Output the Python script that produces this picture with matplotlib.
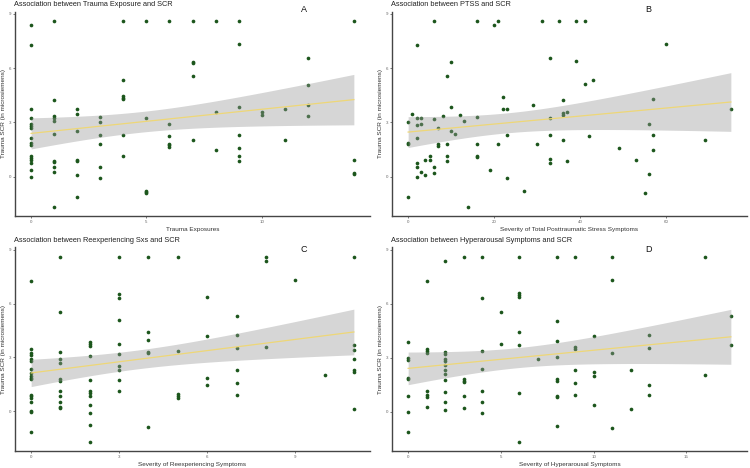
import numpy as np
import matplotlib
matplotlib.use("Agg")
import matplotlib.pyplot as plt

plt.rcParams['font.family'] = ['Liberation Sans', 'DejaVu Sans']

# ---------------- data ----------------
# Panel A: Trauma exposures vs trauma SCR
a_x = ([0]*16 + [1]*11 + [2]*7 + [3]*6 + [4]*7 + [5]*5 + [6]*6 + [7]*5 + [8]*3
       + [9]*7 + [10]*2 + [11]*2 + [12]*4 + [14]*4)
a_y = [8.37, 7.27, 3.75, 3.24, 2.91, 2.80, 2.69, 2.12, 1.84, 1.75, 1.14, 1.03, 0.92, 0.75, 0.37, -0.02,
       8.61, 4.23, 3.35, 3.24, 3.09, 2.36, 0.87, 0.79, 0.52, 0.26, -1.66,
       3.74, 3.46, 2.54, 0.94, 0.88, 0.07, -1.10,
       3.28, 3.00, 2.32, 1.79, 0.53, -0.07,
       8.61, 5.34, 4.44, 4.36, 4.29, 2.28, 1.14,
       8.61, 3.26, -0.77, -0.85, -0.92,
       8.61, 2.93, 2.23, 1.80, 1.73, 1.66,
       8.61, 6.35, 6.29, 5.54, 2.02,
       8.61, 3.59, 1.47,
       8.61, 7.34, 3.85, 2.32, 1.58, 1.14, 0.87,
       3.55, 3.42,
       3.74, 2.02,
       6.57, 5.08, 3.96, 3.37,
       8.61, 0.94, 0.18, 0.13]

# Panel B: total PTSS vs trauma SCR
b_x = [0, 0, 0, 0, 1, 2, 2, 2, 2, 2, 2, 2, 3, 3, 3, 4, 4, 5, 5, 6, 6, 6, 6, 7, 7, 7, 8,
       9, 9, 9, 9, 10, 10, 10, 11, 12, 13, 14, 16, 16, 16, 16, 16, 19, 20, 21, 21,
       22, 22, 23, 23, 23, 27, 29, 30, 31, 33, 33, 33, 33, 33, 35, 36, 36, 36, 36,
       37, 37, 39, 39, 41, 41, 42, 43, 49, 53, 55, 56, 56, 57, 57, 57, 60, 69, 75]
b_y = [3.02, 1.88, 1.79, -1.10, 3.48, 3.22, 2.83, 2.12, 0.77, 0.53, 0.00, 7.27,
       3.22, 2.93, 0.28, 0.90, 0.07, 1.14, 0.92, 8.61, 3.20, 0.53, 0.18, 2.71, 1.79, 1.69,
       3.33, 5.54, 1.79, 1.14, 0.88, 6.33, 3.85, 2.54, 2.37, 3.39, 3.07, -1.66,
       8.61, 3.29, 1.79, 1.14, 1.07, 0.39, 8.39, 8.61, 1.79, 4.42, 3.75, 3.72, 2.32, -0.07,
       -0.77, 3.96, 1.82, 8.61, 6.55, 3.26, 2.32, 0.96, 0.77, 8.61, 4.23, 3.52, 3.41, 2.02,
       3.59, 0.88, 8.61, 6.37, 8.61, 5.10, 2.23, 5.34, 1.58, 0.94, -0.88, 2.93, 0.15,
       4.31, 2.28, 1.47, 7.34, 2.02, 3.74]

# Panel C: reexperiencing symptoms vs trauma SCR
c_x = ([0]*18 + [1]*12 + [2]*12 + [3]*10 + [4]*6 + [5]*5 + [6]*4 + [7]*6 + [8]*3
       + [9]*1 + [10]*1 + [11]*7)
c_y = [7.27, 3.47, 3.23, 3.12, 2.90, 2.80, 2.36, 2.12, 1.99, 1.88, 1.79, 0.90, 0.83, 0.72, 0.50, 0.04, -0.04, -1.14,
       8.62, 5.52, 3.28, 2.90, 2.69, 1.81, 1.70, 1.11, 0.85, 0.50, 0.26, 0.18,
       3.87, 3.76, 3.65, 3.06, 1.73, 1.11, 1.01, 0.87, 0.35, -0.11, -0.79, -1.70,
       8.62, 6.55, 6.31, 5.07, 3.73, 3.17, 2.53, 2.31, 1.77, 1.11,
       8.62, 4.41, 3.95, 3.32, 3.25, -0.89,
       8.62, 3.36, 0.94, 0.85, 0.76,
       6.35, 4.21, 1.83, 1.44,
       5.33, 4.28, 3.54, 2.31, 1.57, 0.90,
       8.62, 8.36, 3.58,
       7.34,
       2.03,
       8.62, 3.71, 3.43, 2.90, 2.29, 2.21, 0.11]

# Panel D: hyperarousal symptoms vs trauma SCR
d_x = ([0]*8 + [1]*8 + [2]*12 + [3]*6 + [4]*7 + [5]*2 + [6]*8 + [7]*1 + [8]*9
       + [9]*6 + [10]*4 + [11]*4 + [12]*2 + [13]*4 + [16]*2 + [17.4]*2)
d_y = [3.86, 3.01, 2.86, 1.88, 1.79, 0.85, -0.04, -1.14,
       7.27, 3.49, 3.38, 3.27, 1.13, 0.92, 0.81, 0.26,
       8.38, 3.30, 3.19, 2.93, 2.79, 2.58, 2.31, 2.08, 1.75, 1.11, 0.52, 0.06,
       8.62, 1.81, 1.73, 1.64, 0.89, 0.18,
       8.62, 6.33, 3.38, 2.36, 1.13, 0.52, -0.09,
       5.54, 3.75,
       8.62, 6.59, 6.48, 6.37, 4.41, 3.69, 1.05, -1.68,
       2.92,
       8.62, 5.07, 3.95, 3.06, 1.81, 1.73, 0.89, 0.81, -0.79,
       8.62, 3.58, 3.47, 2.31, 1.57, 0.94,
       4.21, 2.23, 1.99, 0.35,
       8.62, 7.34, 3.25, -0.89,
       2.29, 0.13,
       4.28, 3.54, 1.46, 0.92,
       8.62, 2.03,
       5.33, 3.73]

titles = ["Association between Trauma Exposure and SCR",
          "Association between PTSS and SCR",
          "Association between Reexperiencing Sxs and SCR",
          "Association between Hyperarousal Symptoms and SCR"]
xlabels = ["Trauma Exposures",
           "Severity of Total Posttraumatic Stress Symptoms",
           "Severity of Reexperiencing Symptoms",
           "Severity of Hyperarousal Symptoms"]
ylabel = "Trauma SCR (in microsiemens)"
letters = ["A", "B", "C", "D"]
xticks = [[0, 5, 10], [0, 20, 40, 60], [0, 3, 6, 9], [0, 5, 10, 15]]
yticks = [0, 3, 6, 9]

panels = [(a_x, a_y), (b_x, b_y), (c_x, c_y), (d_x, d_y)]

# ---------------- layout ----------------
W, H = 750, 468
fig = plt.figure(figsize=(7.5, 4.68), dpi=100)
fig.patch.set_facecolor('white')

# axes boxes in pixels: (left, top, right, bottom)
boxes = [(15, 11.5, 370, 216), (392, 11.5, 747, 216),
         (15, 247.5, 370, 451), (392, 247.5, 747, 451)]
title_pos = [(14.5, 5), (391, 5), (14.5, 240.5), (391, 240.5)]
letter_pos = [(304, 10), (648, 10), (304, 250), (648, 250)]

PT_COL = '#1c561c'
LINE_COL = '#eed777'
AX_COL = '#454545'


def t_crit(df):
    # two-sided 95% critical value of Student t (Cornish-Fisher expansion)
    z = 1.959964
    g1 = (z**3 + z) / 4
    g2 = (5*z**5 + 16*z**3 + 3*z) / 96
    g3 = (3*z**7 + 19*z**5 + 17*z**3 - 15*z) / 384
    return z + g1/df + g2/df**2 + g3/df**3


for i, ((xs, ys), (l, t, r, b)) in enumerate(zip(panels, boxes)):
    x = np.asarray(xs, float)
    y = np.asarray(ys, float)
    ax = fig.add_axes([l / W, 1 - b / H, (r - l) / W, (b - t) / H])
    ax.scatter(x, y, s=7, color=PT_COL, linewidths=0, zorder=2)

    # linear model with 95% confidence band (as geom_smooth(method = "lm"))
    n = len(x)
    slope, inter = np.polyfit(x, y, 1)
    resid = y - (inter + slope * x)
    s = np.sqrt(np.sum(resid**2) / (n - 2))
    xg = np.linspace(x.min(), x.max(), 80)
    se = s * np.sqrt(1 / n + (xg - x.mean())**2 / np.sum((x - x.mean())**2))
    fit = inter + slope * xg
    tc = t_crit(n - 2)
    ax.fill_between(xg, fit - tc * se, fit + tc * se, color='#999999', alpha=0.4,
                    linewidth=0, zorder=3)
    ax.plot(xg, fit, color=LINE_COL, lw=0.9, zorder=4)

    xr = x.max() - x.min()
    yr = y.max() - y.min()
    ax.set_xlim(x.min() - 0.05 * xr, x.max() + 0.05 * xr)
    ax.set_ylim(y.min() - 0.05 * yr, y.max() + 0.05 * yr)
    ax.set_xticks(xticks[i])
    ax.set_yticks(yticks)
    ax.tick_params(axis='both', labelsize=3.2, colors=AX_COL, length=1.5,
                   width=0.5, pad=1.5, labelcolor='#666666')
    for sp in ['top', 'right']:
        ax.spines[sp].set_visible(False)
    for sp in ['left', 'bottom']:
        ax.spines[sp].set_color(AX_COL)
        ax.spines[sp].set_linewidth(1.0)
    ax.set_facecolor('white')
    ax.set_xlabel(xlabels[i], fontsize=4.6, color='#333333', labelpad=2)
    ax.set_ylabel(ylabel, fontsize=4.6, color='#333333', labelpad=2)

    tx, ty = title_pos[i]
    fig.text(tx / W, 1 - ty / H, titles[i], fontsize=5.3, color='#222222',
             ha='left', va='center')
    lx, ly = letter_pos[i]
    fig.text(lx / W, 1 - ly / H, letters[i], fontsize=6.5, color='#111111',
             ha='center', va='center')

fig.savefig('out.png', dpi=100, facecolor='white')
